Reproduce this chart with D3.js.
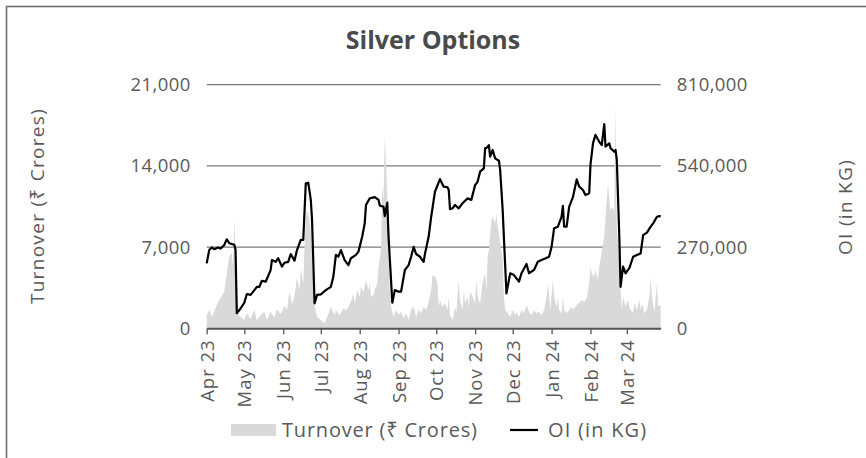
<!DOCTYPE html>
<html><head><meta charset="utf-8">
<script src="https://cdn.jsdelivr.net/npm/d3@7"></script>
<style>
body{margin:0;background:#fff}
svg text{font-family:"Open Sans","Noto Sans","DejaVu Sans",sans-serif;fill:#5a5a5a}
</style>
</head><body>
<svg id="chart" width="866" height="458"></svg>
<script>
// ---------------- DATA ----------------
const title = "Silver Options";
const leftAxisTitle = "Turnover (₹ Crores)";
const rightAxisTitle = "OI (in KG)";
const leftTicks = [0, 7000, 14000, 21000];
const rightTicks = [0, 270000, 540000, 810000];
const xTickLabels = ["Apr 23","May 23","Jun 23","Jul 23","Aug 23","Sep 23","Oct 23","Nov 23","Dec 23","Jan 24","Feb 24","Mar 24"];

const turnoverDates = [
"2023-04-01","2023-04-03","2023-04-05","2023-04-07","2023-04-10","2023-04-12","2023-04-15","2023-04-17","2023-04-19","2023-04-21","2023-04-22","2023-04-23","2023-04-24","2023-04-25","2023-04-26","2023-04-28",
"2023-05-01","2023-05-03","2023-05-06","2023-05-09","2023-05-11","2023-05-14","2023-05-17","2023-05-19","2023-05-22","2023-05-25","2023-05-27","2023-05-30",
"2023-06-02","2023-06-04","2023-06-06","2023-06-08","2023-06-10","2023-06-12","2023-06-14","2023-06-15","2023-06-17","2023-06-18","2023-06-19","2023-06-20","2023-06-22","2023-06-23","2023-06-24","2023-06-26","2023-06-28",
"2023-07-01","2023-07-04","2023-07-07","2023-07-09","2023-07-12","2023-07-13","2023-07-16","2023-07-19","2023-07-21","2023-07-23","2023-07-25","2023-07-27","2023-07-28","2023-07-30",
"2023-08-01","2023-08-02","2023-08-04","2023-08-06","2023-08-08","2023-08-09","2023-08-10","2023-08-12","2023-08-13","2023-08-15","2023-08-16","2023-08-18","2023-08-19","2023-08-20","2023-08-21","2023-08-23","2023-08-24","2023-08-25","2023-08-26","2023-08-28","2023-08-30",
"2023-09-01","2023-09-03","2023-09-05","2023-09-07","2023-09-09","2023-09-11","2023-09-13","2023-09-15","2023-09-17","2023-09-19","2023-09-21","2023-09-23","2023-09-25","2023-09-27","2023-09-28","2023-09-30",
"2023-10-02","2023-10-03","2023-10-04","2023-10-06","2023-10-08","2023-10-10","2023-10-11","2023-10-12","2023-10-14","2023-10-16","2023-10-17","2023-10-19","2023-10-20","2023-10-22","2023-10-23","2023-10-24","2023-10-26","2023-10-27","2023-10-28","2023-10-30",
"2023-11-01","2023-11-02","2023-11-03","2023-11-05","2023-11-07","2023-11-08","2023-11-09","2023-11-10","2023-11-11","2023-11-12","2023-11-14","2023-11-15","2023-11-17","2023-11-18","2023-11-19","2023-11-20","2023-11-21","2023-11-23","2023-11-24","2023-11-25","2023-11-27","2023-11-29",
"2023-12-01","2023-12-03","2023-12-04","2023-12-06","2023-12-08","2023-12-10","2023-12-12","2023-12-14","2023-12-16","2023-12-18","2023-12-20","2023-12-22","2023-12-24","2023-12-26","2023-12-28","2023-12-29","2023-12-31",
"2024-01-02","2024-01-03","2024-01-05","2024-01-06","2024-01-07","2024-01-09","2024-01-10","2024-01-11","2024-01-13","2024-01-15","2024-01-17","2024-01-18","2024-01-20","2024-01-22","2024-01-23","2024-01-25","2024-01-27","2024-01-29","2024-01-31",
"2024-02-01","2024-02-02","2024-02-04","2024-02-05","2024-02-07","2024-02-08","2024-02-09","2024-02-11","2024-02-12","2024-02-13","2024-02-15","2024-02-16","2024-02-17","2024-02-19","2024-02-20","2024-02-21","2024-02-22","2024-02-24","2024-02-25","2024-02-26","2024-02-27","2024-02-29",
"2024-03-02","2024-03-03","2024-03-04","2024-03-06","2024-03-07","2024-03-09","2024-03-11","2024-03-12","2024-03-13","2024-03-15","2024-03-17","2024-03-19","2024-03-20","2024-03-21","2024-03-23","2024-03-25","2024-03-26","2024-03-28"];
const turnoverValues = [
1150,1580,1000,1430,2290,2590,3160,4740,6170,6460,5310,9620,5310,3880,1150,1000,
720,1290,780,1640,660,1150,1430,720,1430,950,1640,1230,
1920,1580,3160,2090,2720,4450,3300,5090,3880,7030,9340,10200,9340,8190,6170,2010,1000,
720,430,1230,1860,1150,1580,1150,1720,1580,1860,2290,3020,2150,3300,
2720,3590,3160,4160,3300,3880,2720,2870,3300,3880,5310,6750,12200,11060,16660,11340,6750,3300,1860,1000,1580,
1150,1430,860,1290,720,1580,1860,1000,1580,1290,1860,1580,2290,3300,4600,4450,
3880,1860,2440,1860,2150,1580,2720,1150,720,1860,1290,4160,2440,1580,3300,2150,2720,1860,3160,2720,
2150,4160,2720,2150,3880,4450,4740,3300,6170,6750,9340,9620,9050,9910,8760,8190,7330,5890,2720,1580,1290,1000,
1580,1150,1430,1000,1580,1290,2010,1430,1150,1580,1290,1430,1150,1580,2720,3880,1580,
4160,2720,1860,2720,1580,1290,2720,1580,1290,1580,1860,1580,1860,2150,2150,2440,2290,2590,3880,
5310,4740,4450,5030,4160,5310,5890,7330,7900,9620,12500,11060,10200,10480,9910,19250,8760,5890,3300,1580,2720,1860,
2440,1860,1580,1290,2150,1580,2440,1580,2150,1290,1580,2720,4450,2720,1430,3880,1860,2000];

const oiDates = [
"2023-04-01","2023-04-03","2023-04-05","2023-04-07","2023-04-10","2023-04-12","2023-04-15","2023-04-17","2023-04-19","2023-04-23","2023-04-24","2023-04-25","2023-04-28",
"2023-05-01","2023-05-03","2023-05-06","2023-05-09","2023-05-11","2023-05-13","2023-05-15","2023-05-18","2023-05-20","2023-05-22","2023-05-23","2023-05-26","2023-05-28","2023-05-31",
"2023-06-02","2023-06-05","2023-06-07","2023-06-10","2023-06-12","2023-06-15","2023-06-17","2023-06-19","2023-06-21","2023-06-23","2023-06-24","2023-06-26","2023-06-28",
"2023-07-01","2023-07-05","2023-07-09","2023-07-11","2023-07-13","2023-07-15","2023-07-17","2023-07-20","2023-07-23","2023-07-25","2023-07-29","2023-07-31",
"2023-08-03","2023-08-05","2023-08-06","2023-08-09","2023-08-13","2023-08-16","2023-08-17","2023-08-20","2023-08-21","2023-08-23","2023-08-24","2023-08-27","2023-08-29",
"2023-09-01","2023-09-03","2023-09-06","2023-09-09","2023-09-11","2023-09-13","2023-09-15","2023-09-18","2023-09-21","2023-09-22","2023-09-25","2023-09-27","2023-09-30",
"2023-10-04","2023-10-07","2023-10-10","2023-10-11","2023-10-12","2023-10-14","2023-10-16","2023-10-19","2023-10-22","2023-10-26","2023-10-29",
"2023-11-01","2023-11-03","2023-11-05","2023-11-08","2023-11-09","2023-11-10","2023-11-12","2023-11-13","2023-11-15","2023-11-17","2023-11-20","2023-11-21","2023-11-23","2023-11-26","2023-11-29",
"2023-12-02","2023-12-06","2023-12-08","2023-12-12","2023-12-14","2023-12-18","2023-12-21","2023-12-24","2023-12-30",
"2024-01-01","2024-01-03","2024-01-06","2024-01-09","2024-01-10","2024-01-11","2024-01-13","2024-01-15","2024-01-18","2024-01-21","2024-01-23","2024-01-26","2024-01-28","2024-01-31",
"2024-02-01","2024-02-03","2024-02-05","2024-02-08","2024-02-10","2024-02-12","2024-02-13","2024-02-16","2024-02-17","2024-02-20","2024-02-21","2024-02-22","2024-02-24","2024-02-25","2024-02-27","2024-02-29",
"2024-03-03","2024-03-06","2024-03-09","2024-03-12","2024-03-14","2024-03-17","2024-03-20","2024-03-22","2024-03-25","2024-03-27","2024-03-28"];
const oiValues = [
216000,260000,269000,263000,269000,265000,277000,296000,283000,278000,260000,50000,66000,
85000,114000,111000,127000,138000,138000,158000,155000,174000,194000,227000,221000,233000,205000,
218000,221000,247000,225000,260000,294000,294000,482000,484000,427000,360000,83000,111000,
113000,127000,138000,172000,244000,238000,260000,227000,210000,233000,244000,255000,
305000,349000,410000,432000,436000,427000,408000,404000,373000,418000,305000,85000,127000,
122000,122000,194000,210000,238000,271000,247000,238000,221000,247000,305000,371000,454000,
496000,471000,469000,460000,396000,399000,410000,399000,416000,432000,427000,
476000,487000,521000,532000,599000,599000,609000,571000,593000,565000,557000,526000,393000,116000,183000,
177000,155000,183000,214000,183000,194000,221000,227000,238000,
271000,333000,338000,371000,407000,338000,338000,404000,436000,495000,471000,460000,443000,449000,
543000,615000,643000,620000,609000,679000,604000,615000,599000,587000,593000,560000,305000,138000,205000,183000,
200000,238000,244000,249000,310000,318000,338000,349000,371000,373000,372000];

// ---------------- CHART ----------------
const svg = d3.select("#chart");
const W = 866, H = 458;
const plot = {left: 206.7, right: 660.7, top: 84.7, bottom: 328.3};
const parse = d3.timeParse("%Y-%m-%d");

const x = d3.scaleTime()
  .domain([parse("2023-04-01"), parse("2024-03-28")])
  .range([plot.left, plot.right]);
const yL = d3.scaleLinear().domain([0, 21000]).range([plot.bottom, plot.top]);
const yR = d3.scaleLinear().domain([0, 810000]).range([plot.bottom, plot.top]);

// outer frame
svg.append("rect").attr("x", 6.5).attr("y", 6.5).attr("width", W).attr("height", H)
  .attr("fill", "none").attr("stroke", "#6e6e6e").attr("stroke-width", 1.6);

// title
svg.append("text").attr("x", 433).attr("y", 49).attr("text-anchor", "middle")
  .style("font-size", "25px").style("font-weight", "700").style("fill", "#4a4a4a")
  .text(title);

// gridlines
svg.append("g").selectAll("line").data(leftTicks.filter(d => d > 0)).join("line")
  .attr("x1", plot.left).attr("x2", plot.right)
  .attr("y1", d => yL(d)).attr("y2", d => yL(d))
  .attr("stroke", "#7a7a7a").attr("stroke-width", 1.2);

// turnover area
const tData = turnoverDates.map((d, i) => ({date: parse(d), v: turnoverValues[i]}));
svg.append("path").datum(tData)
  .attr("fill", "#d9d9d9")
  .attr("d", d3.area().x(d => x(d.date)).y0(yL(0)).y1(d => yL(d.v)));

// OI line
const oData = oiDates.map((d, i) => ({date: parse(d), v: oiValues[i]}));
svg.append("path").datum(oData)
  .attr("fill", "none").attr("stroke", "#000").attr("stroke-width", 2.2)
  .attr("stroke-linejoin", "round")
  .attr("d", d3.line().x(d => x(d.date)).y(d => yR(d.v)));

// left axis
const gL = svg.append("g").attr("transform", `translate(${plot.left},0)`)
  .call(d3.axisLeft(yL).tickValues(leftTicks).tickFormat(d3.format(",")).tickSize(0).tickPadding(16));
gL.select(".domain").remove();
gL.selectAll("text").style("font-size", "18.5px").style("letter-spacing", "0.4px").style("fill", "#5a5a5a");

// right axis
const gR = svg.append("g").attr("transform", `translate(${plot.right},0)`)
  .call(d3.axisRight(yR).tickValues(rightTicks).tickFormat(d3.format(",")).tickSize(0).tickPadding(16));
gR.select(".domain").remove();
gR.selectAll("text").style("font-size", "18.5px").style("letter-spacing", "0.4px").style("fill", "#5a5a5a");

// x axis
const monthTicks = d3.timeMonth.range(parse("2023-04-01"), parse("2024-04-01"));
const gX = svg.append("g").attr("transform", `translate(0,${plot.bottom})`)
  .call(d3.axisBottom(x).tickValues(monthTicks).tickFormat((d, i) => xTickLabels[i]).tickSize(6).tickSizeOuter(0));
gX.select(".domain").attr("stroke", "#555").attr("stroke-width", 2);
gX.selectAll(".tick line").attr("stroke", "#555").attr("stroke-width", 1.3);
gX.selectAll("text")
  .style("font-size", "18.5px").style("letter-spacing", "1px").style("fill", "#5a5a5a")
  .attr("transform", "rotate(-90)")
  .attr("text-anchor", "end")
  .attr("x", -11).attr("y", 0).attr("dy", "0.36em");

// axis titles
svg.append("text").attr("transform", "translate(44,206) rotate(-90)")
  .attr("text-anchor", "middle").style("font-size", "19px").style("letter-spacing", "1.3px").text(leftAxisTitle);
svg.append("text").attr("transform", "translate(852,207) rotate(-90)")
  .attr("text-anchor", "middle").style("font-size", "19px").style("letter-spacing", "1.3px").text(rightAxisTitle);

// legend
const lg = svg.append("g");
lg.append("rect").attr("x", 231).attr("y", 424).attr("width", 45).attr("height", 12).attr("fill", "#d9d9d9");
lg.append("text").attr("x", 282).attr("y", 437).style("font-size", "20px").style("letter-spacing", "0.8px").text(leftAxisTitle);
lg.append("line").attr("x1", 510).attr("x2", 538).attr("y1", 430).attr("y2", 430)
  .attr("stroke", "#000").attr("stroke-width", 2.2);
lg.append("text").attr("x", 548).attr("y", 437).style("font-size", "20px").style("letter-spacing", "1.2px").text(rightAxisTitle);
</script>
</body></html>
